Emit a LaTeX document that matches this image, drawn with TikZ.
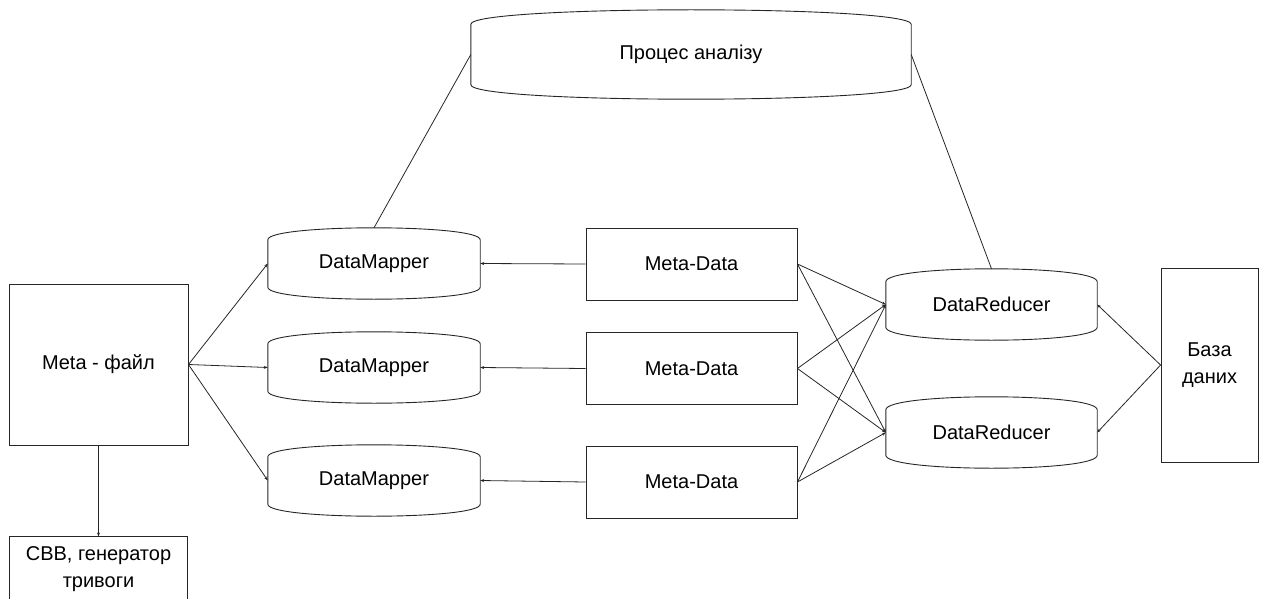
\documentclass[tikz,border=0pt]{standalone}
\usepackage{fontspec}
\setmainfont{Liberation Sans}
\usetikzlibrary{arrows.meta, positioning}

\begin{document}
\begin{tikzpicture}[x=1pt, y=-1pt,
    box/.style={rectangle, draw=black!85, line width=0.9pt, align=center, inner sep=0pt,
                font=\fontsize{20}{27}\selectfont},
    drum/.style={rectangle, align=center, inner sep=0pt, minimum width=212pt, minimum height=71pt,
                 font=\fontsize{20}{27}\selectfont},
    link/.style={line width=0.8pt, black!85},
    arrow/.style={link, -{Stealth[length=4pt, width=3pt]}}
]
\useasboundingbox (0,0) rectangle (1265,599);

% left side
\node[box, minimum width=179pt, minimum height=161pt] (metafile) at (98.5,364.5) {Meta - файл};
\node[box, minimum width=178pt, minimum height=65pt, below=91pt of metafile] (svv) {СВВ, генератор\\тривоги};

% mappers and meta-data
\node[drum] (dm1) at (374,263.5) {DataMapper};
\node[drum] (dm2) at (374,367.5) {DataMapper};
\node[drum] (dm3) at (374,480.5) {DataMapper};
\node[box, minimum width=211pt, minimum height=72pt] (md1) at (691.5,264) {Meta-Data};
\node[box, minimum width=211pt, minimum height=72pt] (md2) at (691.5,368.5) {Meta-Data};
\node[box, minimum width=211pt, minimum height=72pt] (md3) at (691.5,482) {Meta-Data};

% reducers, database, analysis
\node[drum, minimum width=211pt] (dr1) at (991.5,304.5) {DataReducer};
\node[drum, minimum width=211pt] (dr2) at (991.5,432.5) {DataReducer};
\node[box, minimum width=97pt, minimum height=194pt] (baza) at (1209.5,365) {База\\даних};
\node[drum, minimum width=440pt, minimum height=89pt] (proc) at (691,54.5) {Процес аналізу};

% drum outlines
\foreach \n/\b in {proc/14.5, dm1/12, dm2/12, dm3/12, dr1/13, dr2/13}
  \draw[link, line width=0.9pt] ([yshift=-\b*1pt]\n.north west) -- ([yshift=\b*1pt]\n.south west)
    .. controls ([yshift=-\b/3*1pt]\n.south west) and ([yshift=-\b/3*1pt]\n.south east) .. ([yshift=\b*1pt]\n.south east)
    -- ([yshift=-\b*1pt]\n.north east)
    .. controls ([yshift=\b/3*1pt]\n.north east) and ([yshift=\b/3*1pt]\n.north west) .. ([yshift=-\b*1pt]\n.north west);

% connectors
\draw[link] (dm1.north) -- (proc.west);
\draw[link] (proc.east) -- (dr1.north);
\foreach \i in {1,2,3} {
  \draw[arrow] (metafile.east) -- (dm\i.west);
  \draw[arrow] (md\i.west) -- (dm\i.east);
  \foreach \j in {1,2}
    \draw[arrow] (md\i.east) -- (dr\j.west);
}
\foreach \j in {1,2}
  \draw[arrow] (baza.west) -- (dr\j.east);
\draw[arrow] (metafile) -- (svv);

\end{tikzpicture}
\end{document}
